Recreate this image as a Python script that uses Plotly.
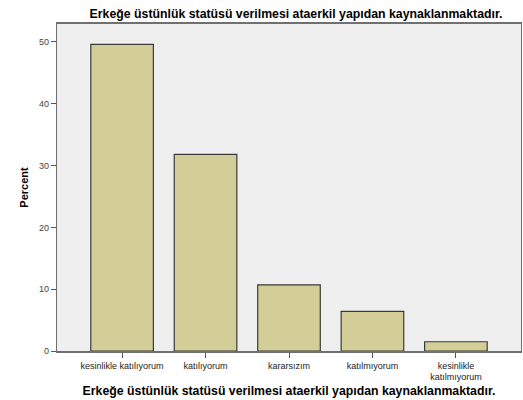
import plotly.graph_objects as go

categories = [
    "kesinlikle katılıyorum",
    "katılıyorum",
    "kararsızım",
    "katılmıyorum",
    "kesinlikle<br>katılmıyorum",
]
percent = [49.6, 31.8, 10.7, 6.4, 1.5]

title_text = "Erkeğe üstünlük statüsü verilmesi ataerkil yapıdan kaynaklanmaktadır."

fig = go.Figure()
fig.add_trace(
    go.Bar(
        x=categories,
        y=percent,
        marker=dict(color="#d3ce97", line=dict(color="#3a3a3a", width=1.2)),
        width=0.75,
    )
)

fig.update_layout(
    width=523,
    height=400,
    margin=dict(l=57, r=2, t=24, b=49),
    paper_bgcolor="white",
    plot_bgcolor="#efefef",
    font=dict(family="Liberation Sans, Arial", color="#222"),
    title=dict(
        text="<b>" + title_text + "</b>",
        x=0.566,
        xref="container",
        xanchor="center",
        y=0.965,
        yref="container",
        yanchor="middle",
        font=dict(size=12.3, color="black"),
    ),
    showlegend=False,
    bargap=0.25,
)
fig.update_xaxes(
    range=[-0.78, 4.78],
    showline=True,
    linecolor="#707070",
    linewidth=1.5,
    mirror=True,
    ticks="outside",
    ticklen=5,
    tickcolor="#555",
    tickfont=dict(size=9, color="#222"),
    title=dict(text="<b>" + title_text + "</b>", font=dict(size=12.3, color="black"), standoff=5),
    showgrid=False,
)
fig.update_yaxes(
    range=[0, 52.9],
    tickvals=[0, 10, 20, 30, 40, 50],
    showline=True,
    linecolor="#707070",
    linewidth=1.2,
    mirror=True,
    ticks="outside",
    ticklen=5,
    tickcolor="#555",
    tickfont=dict(size=9, color="#444"),
    title=dict(text="<b>Percent</b>", font=dict(size=11, color="black"), standoff=8),
    showgrid=False,
    zeroline=False,
)

# page body has an 8px default margin; drop it so the figure sits at the corner
fig.write_html(
    "out.html",
    config={"displayModeBar": False},
    post_script="document.body.style.margin='0';",
)
